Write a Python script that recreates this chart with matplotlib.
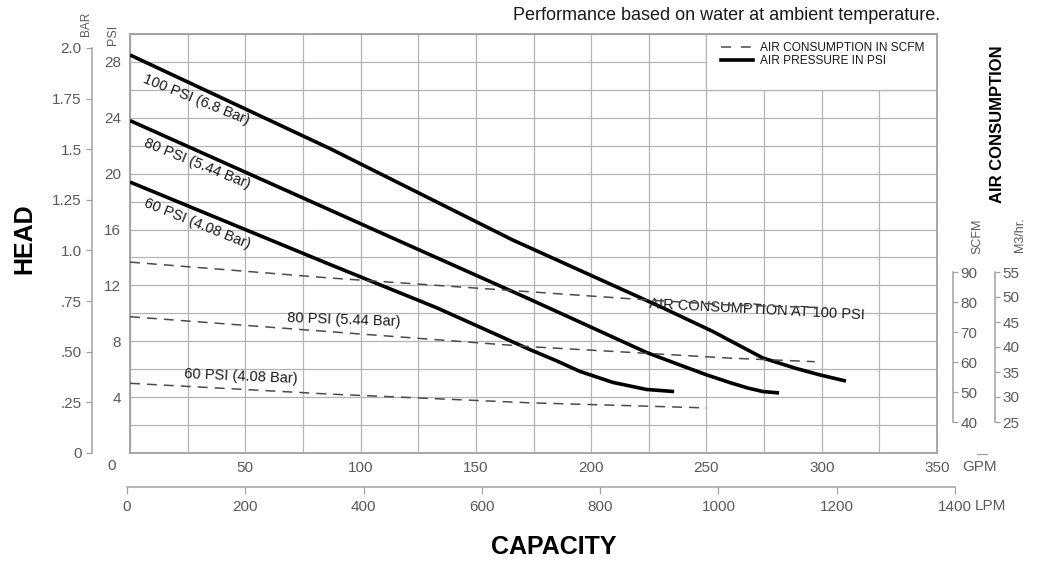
import matplotlib

matplotlib.use("Agg")
import matplotlib.pyplot as plt
from matplotlib.lines import Line2D
from matplotlib.patches import Rectangle

plt.rcParams["font.family"] = ["Liberation Sans", "DejaVu Sans"]

# head curves: capacity (GPM) vs discharge head (PSI) at each air inlet pressure
gpm_100 = [0, 86.7, 166, 231, 252.8, 274.5, 289, 299, 310.5]
psi_100 = [28.5, 21.8, 15.25, 10.4, 8.7, 6.8, 6.05, 5.6, 5.15]
gpm_80 = [0, 86.7, 115.8, 173.5, 224, 238.5, 250, 260, 268, 274.5, 281.5]
psi_80 = [23.8, 17.4, 15.25, 11.0, 7.2, 6.3, 5.6, 5.05, 4.65, 4.4, 4.3]
gpm_60 = [0, 86.7, 133, 173.5, 185, 195, 209.5, 224, 236]
psi_60 = [19.4, 13.5, 10.4, 7.4, 6.6, 5.85, 5.05, 4.55, 4.4]

# air consumption (SCFM) vs capacity (GPM)
gpm_air100 = [0, 86.7, 173.5, 224, 260, 302]
scfm_air100 = [93.3, 88.0, 83.4, 80.7, 79.0, 78.1]
gpm_air80 = [0, 86.7, 173.5, 224, 260, 297]
scfm_air80 = [75.1, 70.1, 65.1, 62.9, 61.3, 60.1]
gpm_air60 = [0, 86.7, 173.5, 250]
scfm_air60 = [52.9, 49.3, 46.4, 44.7]

head_labels = ["100 PSI (6.8 Bar)", "80 PSI (5.44 Bar)", "60 PSI (4.08 Bar)"]
air_labels = ["AIR CONSUMPTION AT 100 PSI", "80 PSI (5.44 Bar)", "60 PSI (4.08 Bar)"]

gpm_ticks = list(range(0, 351, 50))
psi_ticks = list(range(4, 29, 4))
bar_ticks = [0, 0.25, 0.5, 0.75, 1.0, 1.25, 1.5, 1.75, 2.0]
bar_ticklabels = ["0", ".25", ".50", ".75", "1.0", "1.25", "1.5", "1.75", "2.0"]
scfm_ticks = list(range(40, 91, 10))
m3_ticks = list(range(25, 56, 5))
lpm_ticks = list(range(0, 1401, 200))

PSI_PER_BAR = 14.5

W, H = 1039, 563
GRID = "#b4b4b4"
FRAME = "#a0a0a0"
TICK_TXT = "#5a5a5a"
INK = "#1a1a1a"
DASH_COLOR = "#4a4a4a"
DASH_STYLE = (0, (6.5, 4.6))


def px_box(left, top, right, bottom):
    return [left / W, 1 - bottom / H, (right - left) / W, (bottom - top) / H]


def fig_xy(x, y):
    return x / W, 1 - y / H


fig = plt.figure(figsize=(W / 100, H / 100), dpi=100)

# main grid: GPM x PSI
ax = fig.add_axes(px_box(130, 34, 937, 453))
ax.set_xlim(0, 350)
ax.set_ylim(0, 30)
ax.set_xticks(gpm_ticks)
ax.set_xticklabels([""] + [str(v) for v in gpm_ticks[1:]])
ax.set_xticks(range(0, 351, 25), minor=True)
ax.set_yticks(psi_ticks)
ax.set_yticks(range(0, 31, 2), minor=True)
ax.grid(which="both", color=GRID, linewidth=0.9)
ax.set_axisbelow(True)
ax.tick_params(which="both", length=0, labelsize=11, labelcolor=TICK_TXT)
ax.tick_params(axis="x", pad=5.4)
ax.tick_params(axis="y", pad=6.5)
for spine in ax.spines.values():
    spine.set_color(FRAME)
    spine.set_linewidth(1.3)

# white box that holds the legend
ax.add_patch(Rectangle((250, 26), 100, 4, facecolor="white", edgecolor=GRID, linewidth=0.9, zorder=1))

for g, p in [(gpm_100, psi_100), (gpm_80, psi_80), (gpm_60, psi_60)]:
    ax.plot(g, p, color="black", linewidth=2.6, solid_capstyle="butt", zorder=3)

label_kw = dict(fontsize=10.5, color=INK, ha="center", va="center", rotation_mode="anchor")
ax.text(28.8, 25.3, head_labels[0], rotation=-22, **label_kw)
ax.text(29.3, 20.7, head_labels[1], rotation=-22, **label_kw)
ax.text(29.3, 16.4, head_labels[2], rotation=-22, **label_kw)
ax.text(272, 10.25, air_labels[0], rotation=-3, **label_kw)
ax.text(92.8, 9.52, air_labels[1], rotation=-2, **label_kw)
ax.text(47.9, 5.51, air_labels[2], rotation=-2.5, **label_kw)


def side_axis(lo, hi, spine_pos, side):
    twin = ax.twinx()
    twin.set_ylim(lo, hi)
    for name in ("top", "bottom", "left", "right"):
        twin.spines[name].set_visible(name == side)
    twin.yaxis.set_ticks_position(side)
    twin.spines[side].set_position(("axes", spine_pos))
    twin.spines[side].set_color(FRAME)
    twin.spines[side].set_linewidth(1.1)
    return twin


# SCFM scale: 40 sits at y=422px, 90 at y=272px
psi_40 = (453 - 422) / (419 / 30)
psi_90 = (453 - 272) / (419 / 30)
scfm_per_psi = 50 / (psi_90 - psi_40)
scfm_lo = 40 - psi_40 * scfm_per_psi
ax_scfm = side_axis(scfm_lo, scfm_lo + 30 * scfm_per_psi, (953 - 130) / 807, "right")
ax_scfm.spines["right"].set_bounds(40, 90)
ax_scfm.set_yticks(scfm_ticks)
ax_scfm.tick_params(direction="out", length=3.8, width=0.9, color=FRAME, pad=1.5,
                    labelsize=11, labelcolor=TICK_TXT)

m3_per_psi = 30 / (psi_90 - psi_40)
m3_lo = 25 - psi_40 * m3_per_psi
ax_m3 = side_axis(m3_lo, m3_lo + 30 * m3_per_psi, (995 - 130) / 807, "right")
ax_m3.spines["right"].set_bounds(25, 55)
ax_m3.set_yticks(m3_ticks)
ax_m3.tick_params(direction="out", length=3.8, width=0.9, color=FRAME, pad=1.5,
                  labelsize=11, labelcolor=TICK_TXT)

ax_bar = side_axis(0, 30 / PSI_PER_BAR, (92 - 130) / 807, "left")
ax_bar.spines["left"].set_bounds(0, 2.0)
ax_bar.set_yticks(bar_ticks)
ax_bar.set_yticklabels(bar_ticklabels)
ax_bar.tick_params(direction="out", length=4.3, width=0.9, color=FRAME, pad=3,
                   labelsize=11, labelcolor=TICK_TXT)

for g, s in [(gpm_air100, scfm_air100), (gpm_air80, scfm_air80), (gpm_air60, scfm_air60)]:
    ax_scfm.plot(g, s, color=DASH_COLOR, linewidth=1.1, linestyle=DASH_STYLE)

handles = [
    Line2D([], [], color=DASH_COLOR, linewidth=1.1, linestyle=(0, (6.5, 6.5))),
    Line2D([], [], color="black", linewidth=2.6),
]
leg = ax.legend(
    handles,
    ["AIR CONSUMPTION IN SCFM", "AIR PRESSURE IN PSI"],
    loc="upper left",
    bbox_to_anchor=((721 - 130) / 807, (453 - 42) / 419),
    frameon=False,
    fontsize=8.6,
    handlelength=2.7,
    handletextpad=0.6,
    labelspacing=0.1,
    borderpad=0,
    borderaxespad=0,
)
for t in leg.get_texts():
    t.set_color(INK)

# LPM scale under the GPM axis
ax_lpm = fig.add_axes(px_box(127, 480, 955, 487))
ax_lpm.patch.set_visible(False)
ax_lpm.set_xlim(0, 1400)
for name in ("top", "left", "right"):
    ax_lpm.spines[name].set_visible(False)
ax_lpm.spines["bottom"].set_color(FRAME)
ax_lpm.spines["bottom"].set_linewidth(1.1)
ax_lpm.set_yticks([])
ax_lpm.set_xticks(lpm_ticks)
ax_lpm.tick_params(direction="out", length=5, width=0.9, color=FRAME, pad=4.3,
                   labelsize=11, labelcolor=TICK_TXT)

# short stray rule above the GPM unit, as in the original sheet
fig.add_artist(Line2D([977 / W, 987 / W], [1 - 454 / H, 1 - 454 / H], color=FRAME, linewidth=0.9))

unit_kw = dict(ha="center", va="center", color=TICK_TXT)
fig.text(*fig_xy(112, 466), "0", fontsize=11, **unit_kw)
fig.text(*fig_xy(980, 467), "GPM", fontsize=11, **unit_kw)
fig.text(*fig_xy(990, 506), "LPM", fontsize=11, **unit_kw)
fig.text(*fig_xy(86, 24), "BAR", fontsize=8.5, rotation=90, **unit_kw)
fig.text(*fig_xy(113, 35), "PSI", fontsize=9, rotation=90, **unit_kw)
fig.text(*fig_xy(977, 236), "SCFM", fontsize=9, rotation=90, **unit_kw)
fig.text(*fig_xy(1020, 235), "M3/hr.", fontsize=9, rotation=90, **unit_kw)

title_kw = dict(ha="center", va="center", color="black", fontweight="bold")
fig.text(*fig_xy(553.5, 547), "CAPACITY", fontsize=18, **title_kw)
fig.text(*fig_xy(24, 239), "HEAD", fontsize=18, rotation=90, **title_kw)
fig.text(*fig_xy(998, 124), "AIR CONSUMPTION", fontsize=12, rotation=90, **title_kw)
fig.text(*fig_xy(940, 15), "Performance based on water at ambient temperature.",
         ha="right", va="center", fontsize=13, color=INK)

fig.savefig("out.png", dpi=100)
